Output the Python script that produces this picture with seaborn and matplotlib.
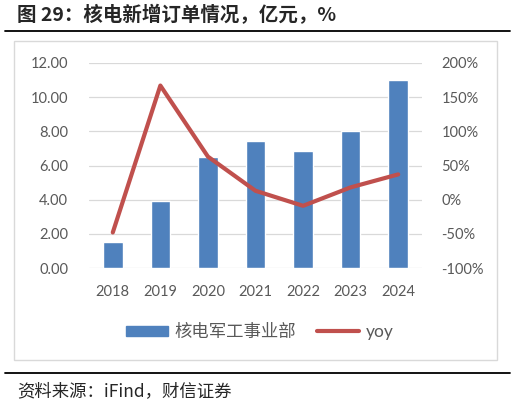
import numpy as np
import pandas as pd
import seaborn as sb
import matplotlib
import matplotlib.pyplot as plt
from matplotlib.patches import Rectangle
from matplotlib.lines import Line2D
from matplotlib.ticker import FuncFormatter
matplotlib.use('Agg')

years = ["2018", "2019", "2020", "2021", "2022", "2023", "2024"]
orders = [1.5, 3.95, 6.5, 7.45, 6.85, 8.0, 11.0]
yoy = [-48, 167, 63, 13, -9, 18, 37]

bar_name = "核电军工事业部"
line_name = "yoy"
title = "图 29：核电新增订单情况，亿元，%"
source = "资料来源：iFind，财信证券"

sb.set_style("white")
plt.rcParams['font.family'] = ['Lato', 'Noto Sans CJK SC', 'DejaVu Sans']

df = pd.DataFrame({"year": years, "orders": orders, "yoy": yoy})

fig = plt.figure(figsize=(5.15, 4.05), dpi=100)
ax = fig.add_axes([89 / 515, 1 - 268 / 405, 333 / 515, 205 / 405])

sb.barplot(data=df, x="year", y="orders", color="#4F81BD", saturation=1,
           width=0.41, ax=ax, zorder=2)
ax.set_ylim(0, 12)
ax.set_xlim(-0.5, 6.5)
ax.set_yticks(np.arange(0, 12.1, 2))
ax.yaxis.set_major_formatter(FuncFormatter(lambda v, p: f"{v:.2f}"))
ax.grid(axis="y", color="#D9D9D9", linewidth=0.9, zorder=0)
ax.set_axisbelow(True)
ax.set_xlabel("")
ax.set_ylabel("")
for s in ax.spines.values():
    s.set_visible(False)
ax.tick_params(axis="y", length=0, pad=15, labelsize=10.5, labelcolor="#595959")
ax.tick_params(axis="x", length=0, pad=12, labelsize=10.5, labelcolor="#595959")

ax2 = ax.twinx()
sb.lineplot(x=np.arange(len(years)), y=df["yoy"], color="#C0504D", linewidth=3,
            ax=ax2, sort=False)
ax2.set_ylim(-100, 200)
ax2.set_yticks(np.arange(-100, 201, 50))
ax2.yaxis.set_major_formatter(FuncFormatter(lambda v, p: f"{v:.0f}%"))
ax2.set_ylabel("")
for s in ax2.spines.values():
    s.set_visible(False)
ax2.tick_params(axis="y", length=0, pad=14, labelsize=10.5, labelcolor="#595959")
ax.set_xlim(-0.5, 6.5)

# chart frame and separators
fig.patches.append(Rectangle((14 / 515, 1 - 360 / 405), 483 / 515, 319 / 405,
                             transform=fig.transFigure, fill=False,
                             edgecolor="#D9D9D9", linewidth=1))
fig.add_artist(Line2D([5 / 515, 510 / 515], [1 - 31 / 405] * 2, color="black", linewidth=1.3))
fig.add_artist(Line2D([5 / 515, 510 / 515], [1 - 373 / 405] * 2, color="black", linewidth=1.3))

fig.text(17 / 515, 1 - 15 / 405, title, fontsize=14, fontweight="bold",
         va="center", ha="left", family=['Noto Sans CJK SC', 'DejaVu Sans'])
fig.text(17 / 515, 1 - 391 / 405, source, fontsize=12.5, style="italic",
         va="center", ha="left", family=['Noto Sans CJK SC', 'DejaVu Sans'])

handles = [Rectangle((0, 0), 1, 1, color="#4F81BD"),
           Line2D([0], [0], color="#C0504D", linewidth=3)]
leg = fig.legend(handles, [bar_name, line_name], loc="center",
                 bbox_to_anchor=(0.505, 1 - 332 / 405), ncol=2, frameon=False,
                 fontsize=12.5, handlelength=2.4, handleheight=0.5,
                 handletextpad=0.4, columnspacing=1.2)
for t in leg.get_texts():
    t.set_color("#595959")

fig.savefig("out.png", dpi=100)
